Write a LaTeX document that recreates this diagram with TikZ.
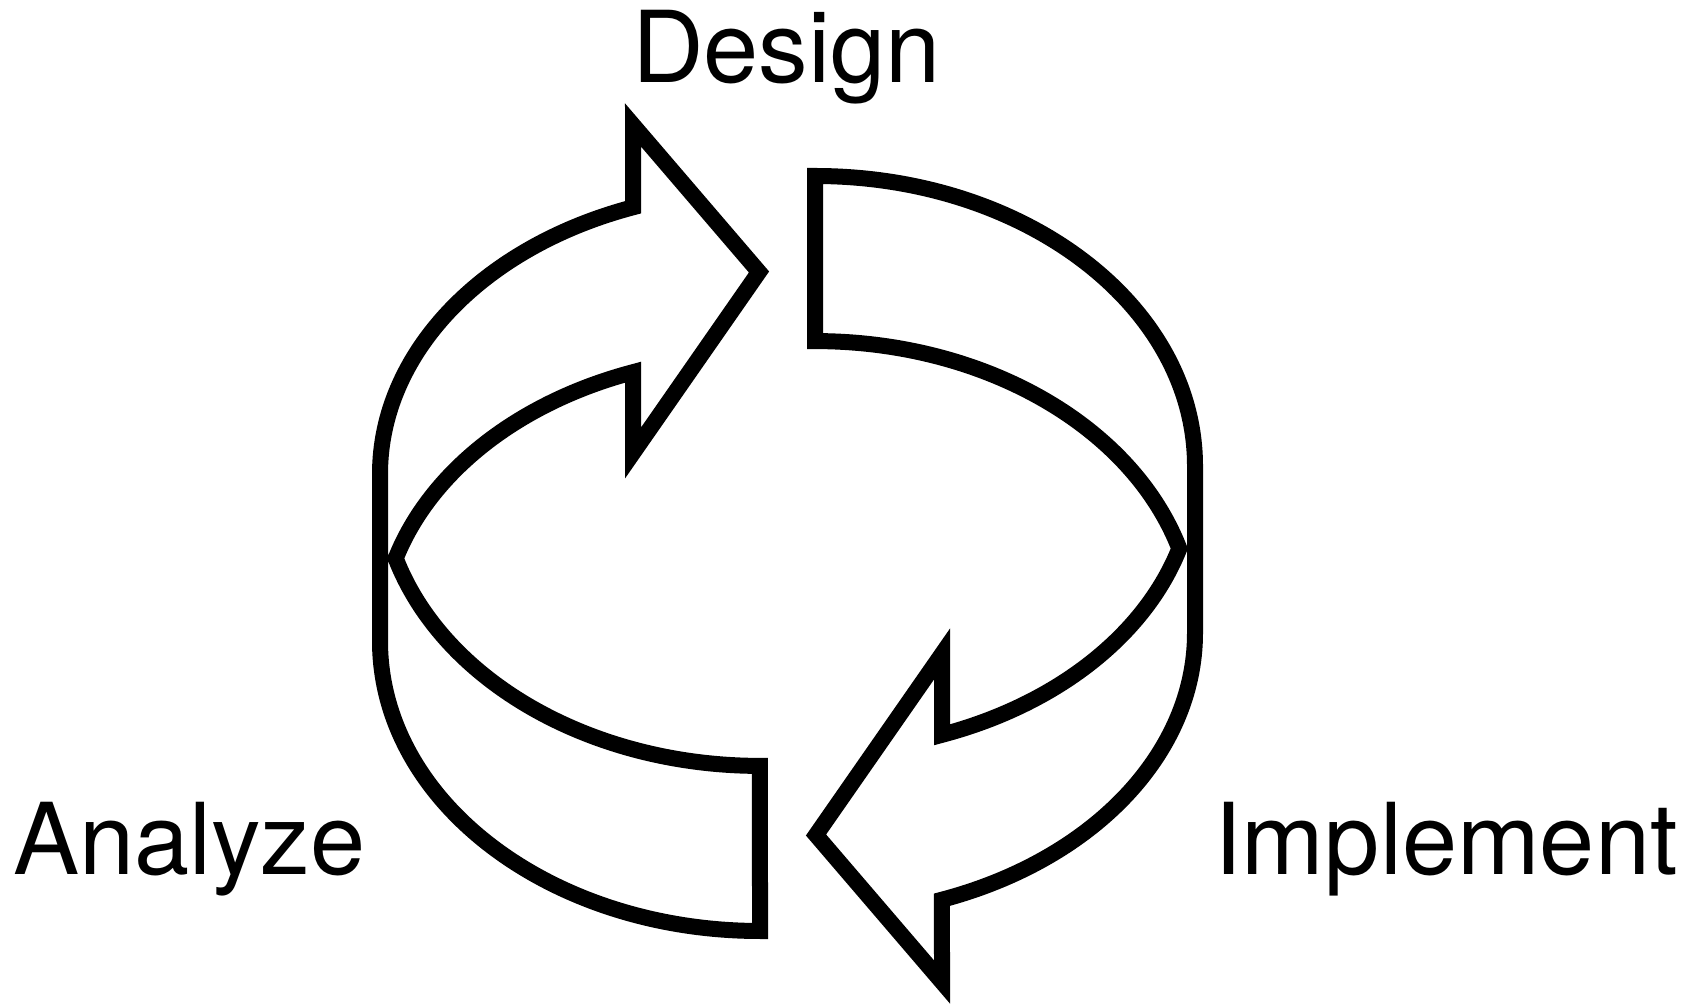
\documentclass[tikz,border=0pt]{standalone}
\usepackage{fontspec}
\setmainfont{TeX Gyre Heros}
\usetikzlibrary{positioning}
\tikzset{
  bandline/.style={line width=4.55pt, line join=miter, black},
  phaselabel/.style={font=\fontsize{28.2}{32}\selectfont, anchor=base, inner sep=0pt}
}

\begin{document}
\begin{tikzpicture}[x=0.01cm, y=0.01cm]
  \useasboundingbox (0,0) rectangle (1694,1003);
  % two arrow bands, the second turned half round the centre
  \foreach \turn in {0,180} {
    \begin{scope}[rotate around={\turn:(787.5,449.5)}]
      \draw[bandline] (380,362) -- (380,529)
        arc[start angle=180, end angle=109.52, x radius=380, y radius=283]
        -- (633,878) -- (759,731) -- (633,550) -- (633,630.8)
        arc[start angle=109.52, end angle=163.47, x radius=380, y radius=283]
        arc[start angle=196.53, end angle=270, x radius=380, y radius=290]
        -- (760,72)
        arc[start angle=270, end angle=180, x radius=380, y radius=290]
        -- cycle;
    \end{scope}
  }
  \node[phaselabel] (design) at (786.5,920) {Design};
  \node[phaselabel] (analyze) at (189.5,128) {Analyze};
  \node[phaselabel] (implement) at (1446,128) {Implement};
\end{tikzpicture}
\end{document}
